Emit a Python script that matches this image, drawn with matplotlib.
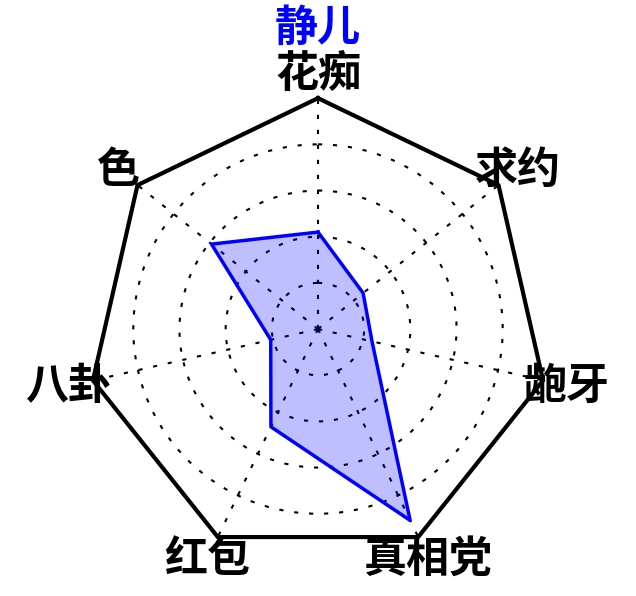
import numpy as np
import matplotlib
matplotlib.use("Agg")
import matplotlib.pyplot as plt

plt.rcParams['font.family'] = ['Noto Sans CJK SC', 'DejaVu Sans']

title = "静儿"
categories = ["花痴", "求约", "龅牙", "真相党", "红包", "八卦", "色"]
values = [0.42, 0.25, 0.24, 0.92, 0.47, 0.21, 0.59]
grid_levels = [0.2, 0.4, 0.6, 0.8]

n = len(categories)
theta = np.linspace(0, 2 * np.pi, n, endpoint=False)

fig = plt.figure(figsize=(6.36, 5.96), dpi=100)
ax = fig.add_axes([0.137, 0.0604, 0.726, 0.775], projection='polar')
ax.set_theta_zero_location('N')
ax.set_theta_direction(-1)
ax.set_ylim(0, 1)
ax.spines['polar'].set_visible(False)
ax.set_yticks(grid_levels)
ax.set_yticklabels([])
ax.set_xticks(theta)
ax.set_xticklabels([])
ax.grid(True, color='black', linestyle=(0, (2, 5.2)), linewidth=1.5)

# heptagon frame
tt = np.append(theta, theta[0])
ax.plot(tt, np.ones_like(tt), color='black', lw=3, clip_on=False, zorder=3)

vv = np.append(values, values[0])
ax.fill(tt, vv, color='blue', alpha=0.25, zorder=2)
ax.plot(tt, vv, color='blue', lw=2.5, zorder=4)

for t, lab in zip(theta, categories):
    ax.text(t, 1.105, lab, ha='center', va='center', fontsize=31,
            fontweight='heavy', color='black')

fig.text(0.5, 0.953, title, ha='center', va='center', fontsize=31,
         fontweight='heavy', color='blue')

fig.savefig('out.png', dpi=100)
